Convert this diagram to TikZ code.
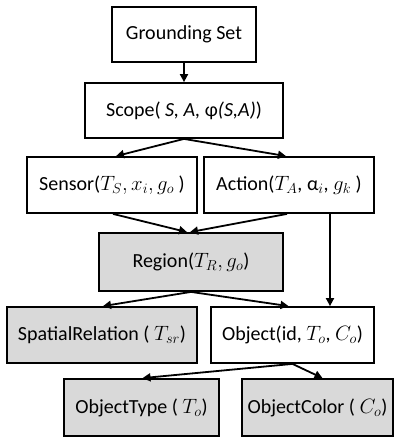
\documentclass[tikz,border=0pt]{standalone}
\usepackage{fontspec}
\setmainfont{Carlito}
\usetikzlibrary{arrows.meta,calc}
\definecolor{boxgray}{HTML}{D9D9D9}
\begin{document}
\begin{tikzpicture}[x=1pt,y=-1pt,
  box/.style={draw=black,line width=1.8pt,rectangle,inner sep=0pt,align=center,font=\fontsize{20}{24}\selectfont},
  gbox/.style={box,fill=boxgray},
  arr/.style={line width=1.8pt,-{Triangle[length=8pt,width=8pt]}}]
\useasboundingbox (0,0) rectangle (401,439);
\node[box,minimum width=144pt,minimum height=55pt] (G) at (184,34.5) {Grounding Set};
\node[box,minimum width=198pt,minimum height=55pt] (Sc) at (184,110.5) {Scope( \textit{S, A, }φ\textit{(S,A)})};
\node[box,minimum width=170pt,minimum height=56pt] (Se) at (112,185) {Sensor($T_S, x_i, g_o$ )};
\node[box,minimum width=170pt,minimum height=56pt] (Ac) at (289,185) {Action($T_A$, α$_i$, $g_k$ )};
\node[gbox,minimum width=184pt,minimum height=58pt] (R) at (191,262) {Region($T_R, g_o$)};
\node[gbox,minimum width=190pt,minimum height=56pt] (SR) at (102,335) {SpatialRelation ( $T_{sr}$)};
\node[box,minimum width=163pt,minimum height=56pt] (O) at (292.5,335) {Object(id, $T_o$, $C_o$)};
\node[gbox,minimum width=155pt,minimum height=57pt] (OT) at (141.5,407.5) {ObjectType ( $T_o$)};
\node[gbox,minimum width=151pt,minimum height=57pt] (OC) at (317.5,407.5) {ObjectColor ( $C_o$)};
\coordinate (vx) at (330,0);
\draw[arr] (G.south) -- (Sc.north);
\draw[arr] (Sc.south) -- ([xshift=4pt]Se.north);
\draw[arr] (Sc.south) -- ([xshift=-3pt]Ac.north);
\draw[arr] ([xshift=1pt]Se.south) -- ([xshift=-4pt]R.north);
\draw[arr] ([xshift=-2pt]Ac.south) -- ([xshift=-1pt]R.north);
\draw[arr] (Ac.south -| vx) -- (O.north -| vx);
\draw[arr] (R.south) -- ([xshift=1pt]SR.north);
\draw[arr] (R.south) -- ([xshift=-4pt]O.north);
\draw[arr] (O.south) -- ([xshift=1pt]OT.north);
\draw[arr] (O.south) -- ([xshift=5pt]OC.north);
\end{tikzpicture}
\end{document}
